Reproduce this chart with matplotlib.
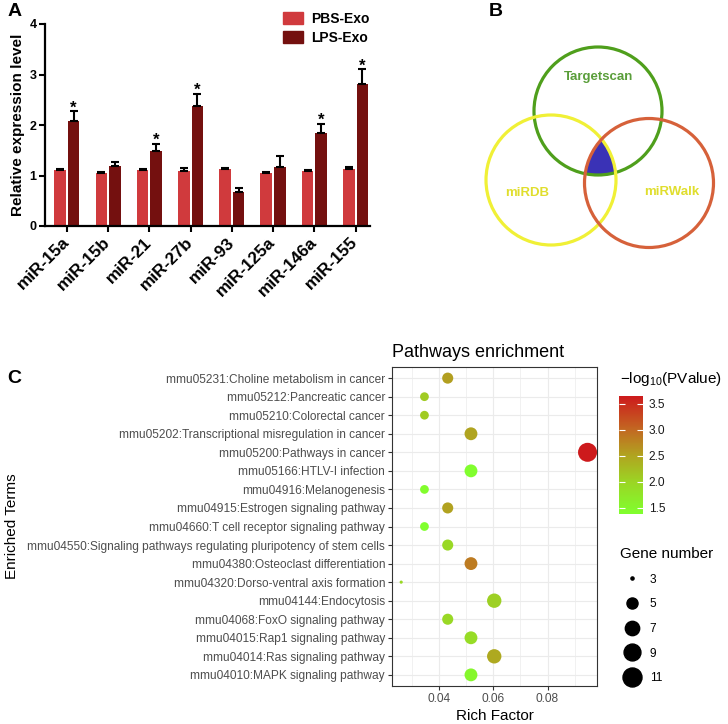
import numpy as np
import matplotlib
matplotlib.use("Agg")
import matplotlib.pyplot as plt
from matplotlib.colors import LinearSegmentedColormap, Normalize
from matplotlib.patches import Patch, Circle, Polygon
from matplotlib.lines import Line2D

plt.rcParams["font.family"] = ["Liberation Sans", "DejaVu Sans"]
plt.rcParams["mathtext.fontset"] = "custom"
plt.rcParams["mathtext.rm"] = "Liberation Sans"
plt.rcParams["mathtext.it"] = "Liberation Sans:italic"

# ---- panel A: qPCR of miRNAs in exosomes
mirnas = ["miR-15a", "miR-15b", "miR-21", "miR-27b", "miR-93", "miR-125a", "miR-146a", "miR-155"]
pbs_mean = [1.10, 1.05, 1.10, 1.09, 1.12, 1.05, 1.09, 1.12]
pbs_err = [0.03, 0.02, 0.02, 0.05, 0.02, 0.02, 0.02, 0.04]
lps_mean = [2.08, 1.19, 1.49, 2.37, 0.67, 1.17, 1.85, 2.81]
lps_err = [0.19, 0.07, 0.13, 0.24, 0.08, 0.22, 0.17, 0.29]
significant = [True, False, True, True, False, False, True, True]
groups = ["PBS-Exo", "LPS-Exo"]

# ---- panel B: target prediction databases
venn_sets = ["Targetscan", "miRDB", "miRWalk"]

# ---- panel C: KEGG pathway enrichment (top to bottom)
terms = [
    "mmu05231:Choline metabolism in cancer",
    "mmu05212:Pancreatic cancer",
    "mmu05210:Colorectal cancer",
    "mmu05202:Transcriptional misregulation in cancer",
    "mmu05200:Pathways in cancer",
    "mmu05166:HTLV-I infection",
    "mmu04916:Melanogenesis",
    "mmu04915:Estrogen signaling pathway",
    "mmu04660:T cell receptor signaling pathway",
    "mmu04550:Signaling pathways regulating pluripotency of stem cells",
    "mmu04380:Osteoclast differentiation",
    "mmu04320:Dorso-ventral axis formation",
    "mmu04144:Endocytosis",
    "mmu04068:FoxO signaling pathway",
    "mmu04015:Rap1 signaling pathway",
    "mmu04014:Ras signaling pathway",
    "mmu04010:MAPK signaling pathway",
]
rich_factor = [0.0431, 0.0345, 0.0345, 0.0517, 0.0948, 0.0517, 0.0345, 0.0431, 0.0345,
               0.0431, 0.0517, 0.0259, 0.0603, 0.0431, 0.0517, 0.0603, 0.0517]
gene_number = [5, 4, 4, 6, 11, 6, 4, 5, 4, 5, 6, 3, 7, 5, 6, 7, 6]
neg_log10_p = [2.55, 2.10, 2.10, 2.50, 3.65, 1.40, 1.42, 2.52, 1.38,
               1.95, 2.85, 1.95, 2.05, 1.95, 1.90, 2.45, 1.50]
size_breaks = [3, 5, 7, 9, 11]
color_breaks = [1.5, 2.0, 2.5, 3.0, 3.5]

W, H = 728, 724
fig = plt.figure(figsize=(W / 100, H / 100), dpi=100)


def box(left, top, right, bottom):
    return [left / W, 1 - bottom / H, (right - left) / W, (bottom - top) / H]


# ================= A =================
ax = fig.add_axes(box(45, 24, 370, 226))
x = np.arange(len(mirnas))
w = 0.28
ax.bar(x - 0.165, pbs_mean, w, color="#d03a3d", zorder=2)
ax.bar(x + 0.165, lps_mean, w, color="#74100f", zorder=2)
ax.errorbar(x - 0.165, pbs_mean, yerr=[np.zeros(len(x)), pbs_err], fmt="none",
            ecolor="black", elinewidth=1.5, capsize=3, capthick=1.5, zorder=3)
ax.errorbar(x + 0.165, lps_mean, yerr=[np.zeros(len(x)), lps_err], fmt="none",
            ecolor="black", elinewidth=1.5, capsize=3, capthick=1.5, zorder=3)
for xi, m, e, sig in zip(x, lps_mean, lps_err, significant):
    if sig:
        ax.text(xi + 0.165, m + e - 0.08, "*", ha="center", va="bottom",
                fontsize=12, fontweight="bold")
ax.set_xlim(-0.53, 7.35)
ax.set_ylim(0, 4)
ax.set_yticks([0, 1, 2, 3, 4])
ax.set_xticks(x)
ax.set_xticklabels(mirnas, rotation=45, ha="right", va="center", rotation_mode="anchor",
                   fontsize=12.3, fontweight="bold")
for lab in ax.get_yticklabels():
    lab.set_fontweight("bold")
ax.tick_params(axis="y", labelsize=9, width=1.5, length=4, pad=2)
ax.tick_params(axis="x", width=1.5, length=4, pad=6)
for s in ["top", "right"]:
    ax.spines[s].set_visible(False)
for s in ["left", "bottom"]:
    ax.spines[s].set_linewidth(1.6)
ax.set_ylabel("Relative expression level", fontsize=11, fontweight="bold")
ax.yaxis.set_label_coords(-0.06, 0.5)
ax.legend(handles=[Patch(color="#d03a3d"), Patch(color="#74100f")], labels=groups,
          loc="upper left", bbox_to_anchor=(283 / W, 1 - 12 / H), bbox_transform=fig.transFigure,
          frameon=False, prop=dict(weight="bold", size=10), handlelength=1.45,
          handleheight=0.9, handletextpad=0.6, labelspacing=0.35, borderpad=0, borderaxespad=0)

# ================= B =================
axb = fig.add_axes(box(440, 0, 728, 250))
axb.set_xlim(440, 728)
axb.set_ylim(250, 0)
axb.axis("off")
circles = [(598, 111, 64), (551, 180, 65), (649, 183, 64.5)]
edge_colors = ["#4f9f1c", "#f0f036", "#d6613a"]
label_pos = [(599, 77), (527, 193), (672, 192)]
label_colors = ["#5a9e3a", "#e0de2e", "#e0de2e"]


def triple_region(circs, n=1440):
    pts = []
    t = np.linspace(0, 2 * np.pi, n, endpoint=False)
    for i, (cx, cy, r) in enumerate(circs):
        px, py = cx + r * np.cos(t), cy + r * np.sin(t)
        inside = np.ones(n, bool)
        for j, (ox, oy, orr) in enumerate(circs):
            if j != i:
                inside &= (px - ox) ** 2 + (py - oy) ** 2 <= orr ** 2
        pts.append(np.column_stack([px[inside], py[inside]]))
    pts = np.vstack(pts)
    c = pts.mean(axis=0)
    return pts[np.argsort(np.arctan2(pts[:, 1] - c[1], pts[:, 0] - c[0]))]


axb.add_patch(Polygon(triple_region(circles), closed=True, color="#3a32b6", zorder=1))
for (cx, cy, r), ec in zip(circles, edge_colors):
    axb.add_patch(Circle((cx, cy), r, fill=False, ec=ec, lw=2.3, zorder=2))
for name, (lx, ly), lc in zip(venn_sets, label_pos, label_colors):
    axb.text(lx, ly, name, color=lc, fontsize=9.5, fontweight="bold", ha="center", va="center")

# ================= C =================
axc = fig.add_axes(box(392, 367, 597, 686))
cmap = LinearSegmentedColormap.from_list(
    "pv", [(0.0, "#80ff2e"), (0.27, "#9bd524"), (0.49, "#b0a520"), (0.71, "#c26a22"), (1.0, "#cd1a1c")])
norm = Normalize(vmin=min(neg_log10_p), vmax=max(neg_log10_p))


def gene_size(n):
    size = 1 + 5 * np.sqrt((np.asarray(n, float) - 3) / 8)
    return 0.72 * 19 * size / 6  # marker diameter in points


ypos = np.arange(len(terms))[::-1] + 1
sc = axc.scatter(rich_factor, ypos, s=gene_size(gene_number) ** 2, c=neg_log10_p,
                 cmap=cmap, norm=norm, edgecolors="none", zorder=3)
axc.set_xlim(0.0225, 0.0983)
axc.set_ylim(0.4, len(terms) + 0.6)
axc.set_yticks(ypos)
axc.set_yticklabels(terms)
axc.set_xticks([0.04, 0.06, 0.08])
axc.set_xticklabels(["0.04", "0.06", "0.08"])
axc.set_xticks([0.03, 0.05, 0.07, 0.09], minor=True)
axc.grid(which="major", color="#ebebeb", lw=0.85, zorder=0)
axc.grid(which="minor", axis="x", color="#ebebeb", lw=0.5, zorder=0)
axc.set_axisbelow(True)
axc.tick_params(which="major", labelsize=8.6, labelcolor="#4d4d4d", color="#333333",
                length=3, width=0.8, pad=2)
axc.tick_params(which="minor", length=0)
for s in axc.spines.values():
    s.set_color("#333333")
    s.set_linewidth(0.8)
axc.set_xlabel("Rich Factor", fontsize=11, labelpad=3)
axc.set_ylabel("Enriched Terms", fontsize=11)
axc.yaxis.set_label_coords(-1.82, 0.5)
axc.set_title("Pathways enrichment", loc="left", fontsize=13, pad=7)

cax = fig.add_axes(box(619, 396, 643, 514))
cb = fig.colorbar(sc, cax=cax, ticks=color_breaks)
cb.outline.set_visible(False)
cax.yaxis.set_ticks_position("both")
cax.tick_params(direction="in", color="white", length=4, width=0.8, labelsize=8.6,
                labelcolor="#1a1a1a", labelleft=False, labelright=True, pad=4)
fig.text(620 / W, 1 - 379 / H, r"$\mathrm{-log_{10}(PValue)}$", fontsize=11, va="center", ha="left")

handles = [Line2D([], [], ls="", marker="o", color="black", markersize=gene_size(b)) for b in size_breaks]
fig.legend(handles, [str(b) for b in size_breaks], title="Gene number", loc="upper left",
           bbox_to_anchor=(620 / W, 1 - 547 / H), frameon=False, fontsize=8.6, title_fontsize=11,
           alignment="left", handlelength=2.0, handletextpad=0.5, labelspacing=1.06,
           borderpad=0, borderaxespad=0)

# panel letters
for letter, lx, ly in [("A", 8, 12), ("B", 489, 11), ("C", 7, 378)]:
    fig.text(lx / W, 1 - ly / H, letter, fontsize=14, fontweight="bold", va="center", ha="left")

fig.savefig("out.png", dpi=100)
